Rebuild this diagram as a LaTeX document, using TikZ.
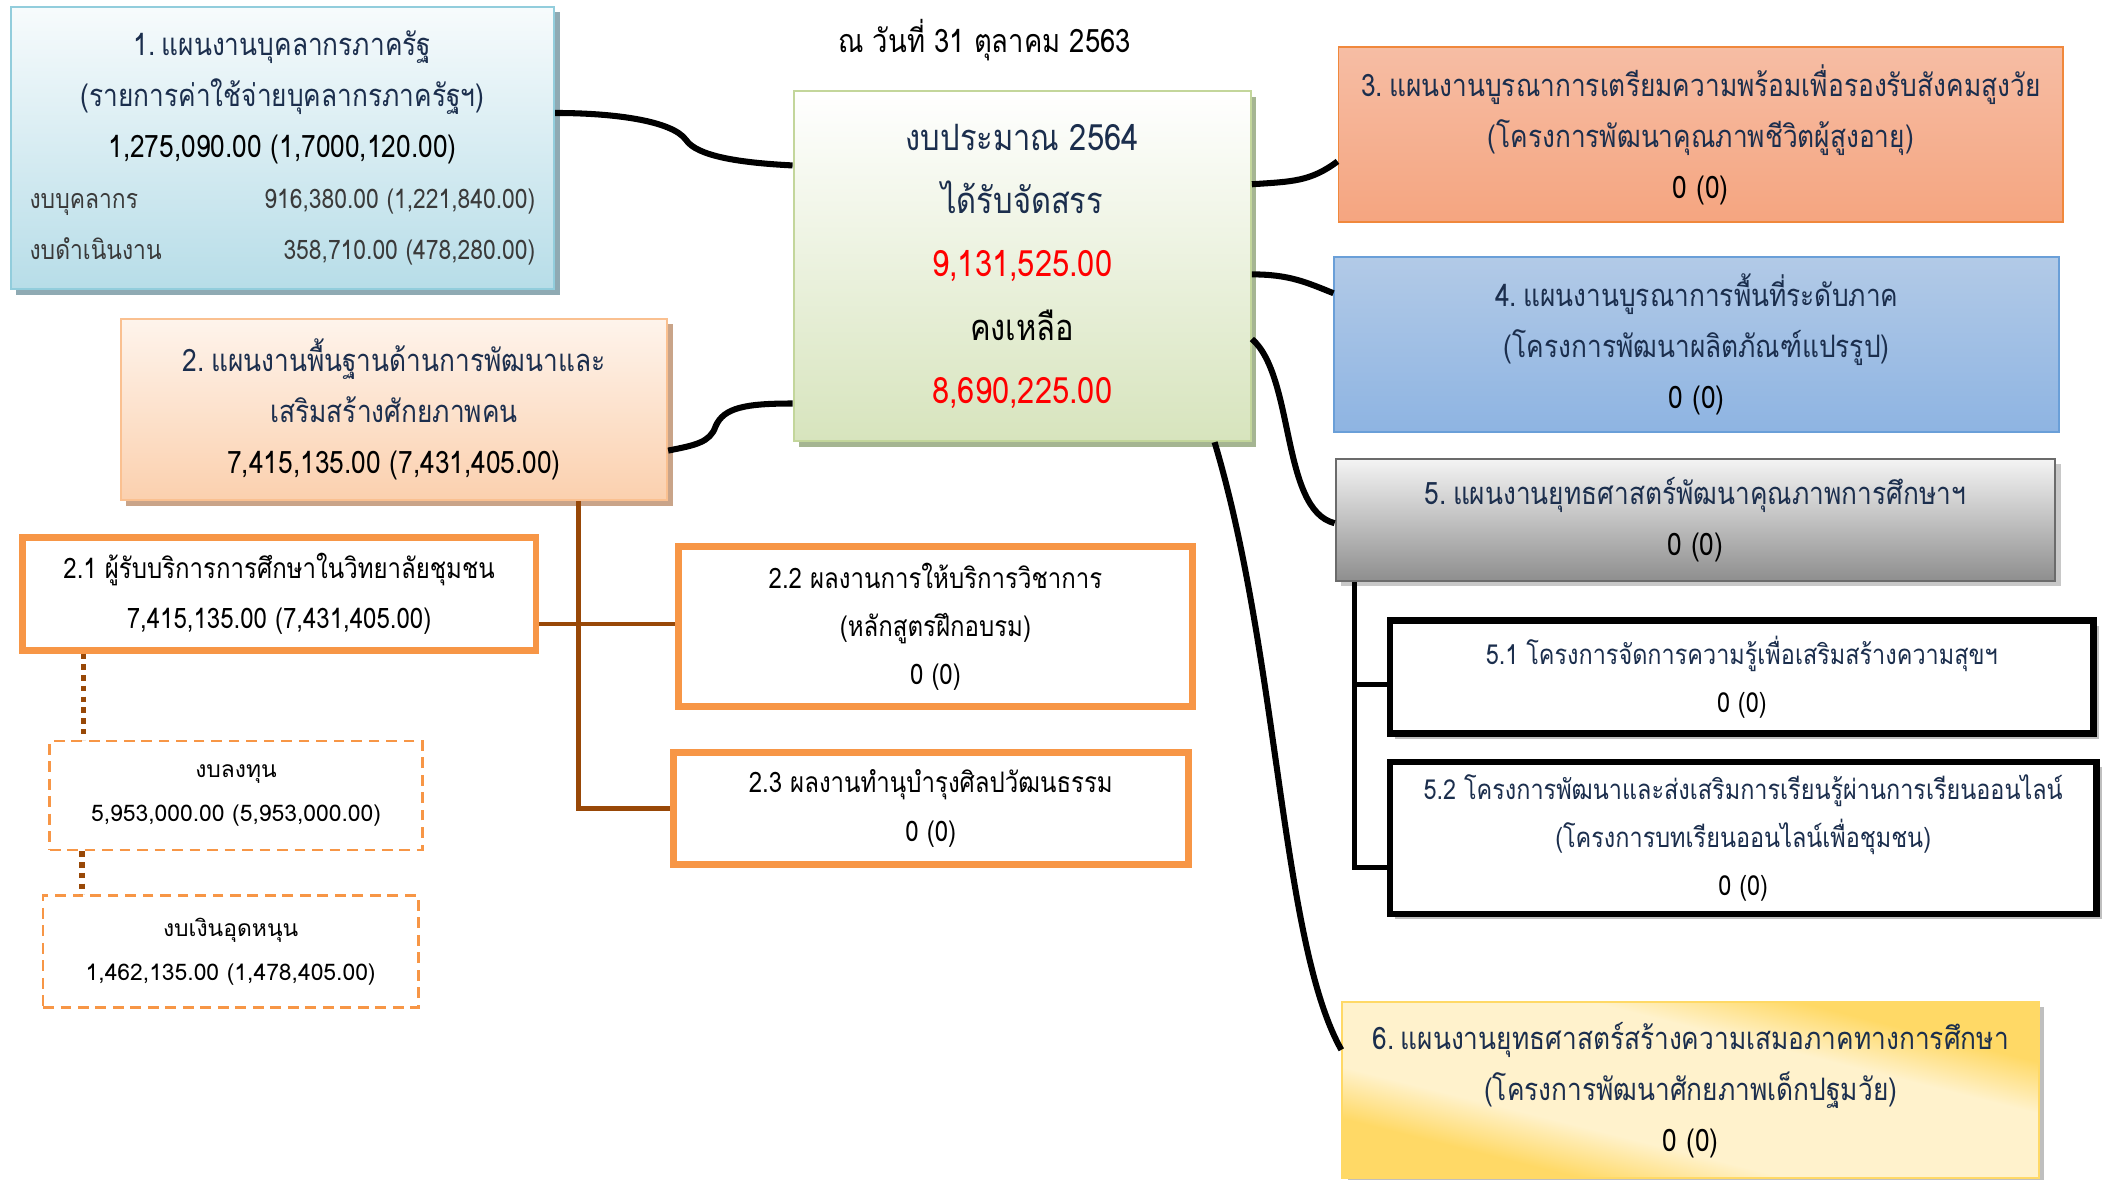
\documentclass[tikz,border=0pt]{standalone}
\usepackage{fontspec}
\usetikzlibrary{shadows}
\newfontfamily\thfont[Script=Thai,FakeStretch=0.85]{Loma}
\newfontfamily\thwide[Script=Thai]{Loma}
\newcommand\ns{\hspace{0.2em}}
\definecolor{navy}{HTML}{1B2E4D}
\definecolor{redv}{HTML}{FF0000}
\definecolor{oline}{HTML}{F79646}
\definecolor{brownl}{HTML}{984807}
\definecolor{subgray}{HTML}{3A3A3A}
\definecolor{goldA}{HTML}{FFD966}
\definecolor{goldB}{HTML}{FFF2CC}
\definecolor{aBd}{HTML}{92CDDC}\definecolor{aTop}{HTML}{F7FBFC}\definecolor{aBot}{HTML}{B7DDE8}\definecolor{aSh}{HTML}{8FAAB3}
\definecolor{cBd}{HTML}{C3D69B}\definecolor{cBot}{HTML}{D7E4BD}\definecolor{cSh}{HTML}{A5B592}
\definecolor{bBd}{HTML}{FAC090}\definecolor{bTop}{HTML}{FEF4EC}\definecolor{bBot}{HTML}{FBD0AE}\definecolor{bSh}{HTML}{C9A489}
\definecolor{tBd}{HTML}{F0883C}\definecolor{tTop}{HTML}{F6BDA4}\definecolor{tBot}{HTML}{F5A580}
\definecolor{fBd}{HTML}{6A9FD8}\definecolor{fTop}{HTML}{B2CAE7}\definecolor{fBot}{HTML}{8EB4E2}
\definecolor{vBd}{HTML}{6B6B6B}\definecolor{vTop}{HTML}{F4F4F4}\definecolor{vBot}{HTML}{8E8E8E}\definecolor{vSh}{HTML}{C8C8C8}
\definecolor{xSh}{HTML}{BFBFBF}
\pgfdeclarehorizontalshading{goldband}{100bp}{color(0bp)=(goldA); color(30bp)=(goldA); color(39bp)=(goldB); color(61bp)=(goldB); color(70bp)=(goldA); color(100bp)=(goldA)}
\tikzset{
  box/.style={draw, line width=1.5pt, align=center, inner sep=0pt},
  sh/.style={general shadow={fill=#1, shadow xshift=4pt, shadow yshift=-4pt}},
  txt/.style={font={\thfont\fontsize{23}{38}\selectfont}},
  conn/.style={draw=black, line width=4.5pt},
  brownc/.style={draw=brownl, line width=3.5pt},
  blackc/.style={draw=black, line width=3.5pt},
  dotc/.style={draw=brownl, line width=4pt, dash pattern=on 4pt off 4pt},
  obox/.style={draw=oline, line width=5pt, fill=white, align=center, inner sep=0pt, text=black},
  kbox/.style={draw=black, line width=5pt, fill=white, align=center, inner sep=0pt, sh=xSh},
  dbox/.style={draw=oline, line width=2pt, dash pattern=on 8pt off 5pt, fill=white, align=center, inner sep=0pt, font={\thwide\fontsize{17}{33}\selectfont}}
}
\begin{document}
\begin{tikzpicture}[x=1pt,y=-1pt]
\useasboundingbox (0,0) rectangle (1568,877);
\fill[white] (0,0) rectangle (1568,877);

% title
\node[font={\thfont\fontsize{24}{30}\selectfont}] (t) at (732,30) {ณ วันที่ 31 ตุลาคม 2563};

% box 1
\node[box, txt, draw=aBd, top color=aTop, bottom color=aBot, sh=aSh, minimum width=404pt, minimum height=210pt] (p1) at (210,110)
{{\color{navy}1.\ns แผนงานบุคลากรภาครัฐ}\\
{\color{navy}(รายการค่าใช้จ่ายบุคลากรภาครัฐฯ)}\\
1,275,090.00 (1,7000,120.00)\\
{\fontsize{20}{38}\selectfont\color{subgray}\makebox[376pt]{งบบุคลากร\hfill 916,380.00 (1,221,840.00)}}\\
{\fontsize{20}{38}\selectfont\color{subgray}\makebox[376pt]{งบดำเนินงาน\hfill 358,710.00 (478,280.00)}}};

% centre box
\node[box, draw=cBd, top color=white, bottom color=cBot, sh=cSh, minimum width=340pt, minimum height=260pt, font={\thfont\fontsize{27}{47}\selectfont}] (c) at (760,198)
{{\color{navy}งบประมาณ 2564}\\
{\color{navy}ได้รับจัดสรร}\\
{\color{redv}9,131,525.00}\\
คงเหลือ\\
{\color{redv}8,690,225.00}};

% box 2
\node[box, txt, draw=bBd, top color=bTop, bottom color=bBot, sh=bSh, minimum width=406pt, minimum height=135pt] (p2) at (293,304.5)
{{\color{navy}2.\ns แผนงานพื้นฐานด้านการพัฒนาและ}\\
{\color{navy}เสริมสร้างศักยภาพคน}\\
7,415,135.00 (7,431,405.00)};

% box 3
\node[box, txt, draw=tBd, line width=1.2pt, top color=tTop, bottom color=tBot, minimum width=539pt, minimum height=130pt] (p3) at (1264.5,100)
{{\color{navy}3.\ns แผนงานบูรณาการเตรียมความพร้อมเพื่อรองรับสังคมสูงวัย}\\
{\color{navy}(โครงการพัฒนาคุณภาพชีวิตผู้สูงอายุ)}\\
0 (0)};

% box 4
\node[box, txt, draw=fBd, line width=1.2pt, top color=fTop, bottom color=fBot, minimum width=539pt, minimum height=130pt] (p4) at (1261.5,256)
{{\color{navy}4.\ns แผนงานบูรณาการพื้นที่ระดับภาค}\\
{\color{navy}(โครงการพัฒนาผลิตภัณฑ์แปรรูป)}\\
0 (0)};

% box 5
\node[box, txt, draw=vBd, top color=vTop, bottom color=vBot, sh=vSh, minimum width=535pt, minimum height=91pt] (p5) at (1260.5,386.5)
{{\color{navy}5.\ns แผนงานยุทธศาสตร์พัฒนาคุณภาพการศึกษาฯ}\\
0 (0)};

% box 5.1, 5.2
\node[kbox, font={\thfont\fontsize{20.5}{36}\selectfont}, minimum width=523pt, minimum height=84pt] (p51) at (1295,503.5)
{{\color{navy}5.1 โครงการจัดการความรู้เพื่อเสริมสร้างความสุขฯ}\\
0 (0)};
\node[kbox, font={\thfont\fontsize{20.5}{36}\selectfont}, minimum width=525pt, minimum height=113pt] (p52) at (1296,623)
{{\color{navy}5.2 โครงการพัฒนาและส่งเสริมการเรียนรู้ผ่านการเรียนออนไลน์}\\
{\color{navy}(โครงการบทเรียนออนไลน์เพื่อชุมชน)}\\
0 (0)};

% box 6
\node[box, txt, draw=goldA, shading=goldband, shading angle=76, sh=xSh, minimum width=518pt, minimum height=131pt] (p6) at (1257,810.5)
{{\color{navy}6.\ns แผนงานยุทธศาสตร์สร้างความเสมอภาคทางการศึกษา}\\
{\color{navy}(โครงการพัฒนาศักยภาพเด็กปฐมวัย)}\\
0 (0)};

% boxes 2.x
\node[obox, font={\thfont\fontsize{21}{37}\selectfont}, minimum width=382pt, minimum height=84pt] (p21) at (207.5,441.5)
{2.1 ผู้รับบริการการศึกษาในวิทยาลัยชุมชน\\
7,415,135.00 (7,431,405.00)};
\node[obox, font={\thfont\fontsize{21}{36}\selectfont}, minimum width=382pt, minimum height=119pt] (p22) at (695.5,466)
{2.2 ผลงานการให้บริการวิชาการ\\
(หลักสูตรฝึกอบรม)\\
0 (0)};
\node[obox, font={\thfont\fontsize{21}{37}\selectfont}, minimum width=383pt, minimum height=83pt] (p23) at (692,601)
{2.3 ผลงานทำนุบำรุงศิลปวัฒนธรรม\\
0 (0)};

% dashed boxes
\node[dbox, minimum width=277pt, minimum height=81pt] (d1) at (175.5,591.5)
{งบลงทุน\\
5,953,000.00 (5,953,000.00)};
\node[dbox, minimum width=279pt, minimum height=83pt] (d2) at (171.5,707.5)
{งบเงินอุดหนุน\\
1,462,135.00 (1,478,405.00)};

% connectors from centre
\coordinate (k1) at (510,104);
\coordinate (k2) at (532,317);
\draw[conn] ([yshift=26pt]p1.east) .. controls +(45,0) and +(-10,-14) .. (k1) .. controls +(8,12) and +(-40,-2) .. ([yshift=75pt]c.west);
\draw[conn] ([yshift=-30.5pt]p2.east) .. controls +(20,-4) and +(-4,12) .. (k2) .. controls +(6,-14) and +(-35,0) .. ([yshift=-102pt]c.west);
\draw[conn] ([yshift=61pt]c.east) .. controls +(30,-2) and +(-20,15) .. ([yshift=-20pt]p3.west);
\draw[conn] ([yshift=-6pt]c.east) .. controls +(28,0) and +(-20,-8) .. ([yshift=38pt]p4.west);
\draw[conn] ([yshift=-54pt]c.east) .. controls +(32,28) and +(-40,-10) .. ([yshift=-2.5pt]p5.west);
\draw[conn] ([xshift=143pt]c.south) .. controls +(48,160) and +(-45,-80) .. ([yshift=30pt]p6.west);

% brown tree under box 2
\coordinate (v2) at ([xshift=137pt]p2.south);
\coordinate (b21) at ([yshift=-22.5pt]p21.east);
\draw[brownc] (v2) -- (v2 |- p23.west) -- (p23.west);
\draw[brownc] (b21) -- (b21 -| p22.west);

% black tree under box 5
\coordinate (v5) at ([xshift=-253.5pt]p5.south);
\coordinate (b51) at ([yshift=-5.5pt]p51.west);
\coordinate (b52) at ([yshift=-22pt]p52.west);
\draw[blackc] (v5) -- (v5 |- b52) -- (b52);
\draw[blackc] (v5 |- b51) -- (b51);

% dotted links
\coordinate (e1) at ([xshift=-145.5pt]p21.south);
\coordinate (e2) at ([xshift=-114.5pt]d1.south);
\draw[dotc] (e1) -- (e1 |- d1.north);
\draw[dotc] (e2) -- (e2 |- d2.north);
\end{tikzpicture}
\end{document}
